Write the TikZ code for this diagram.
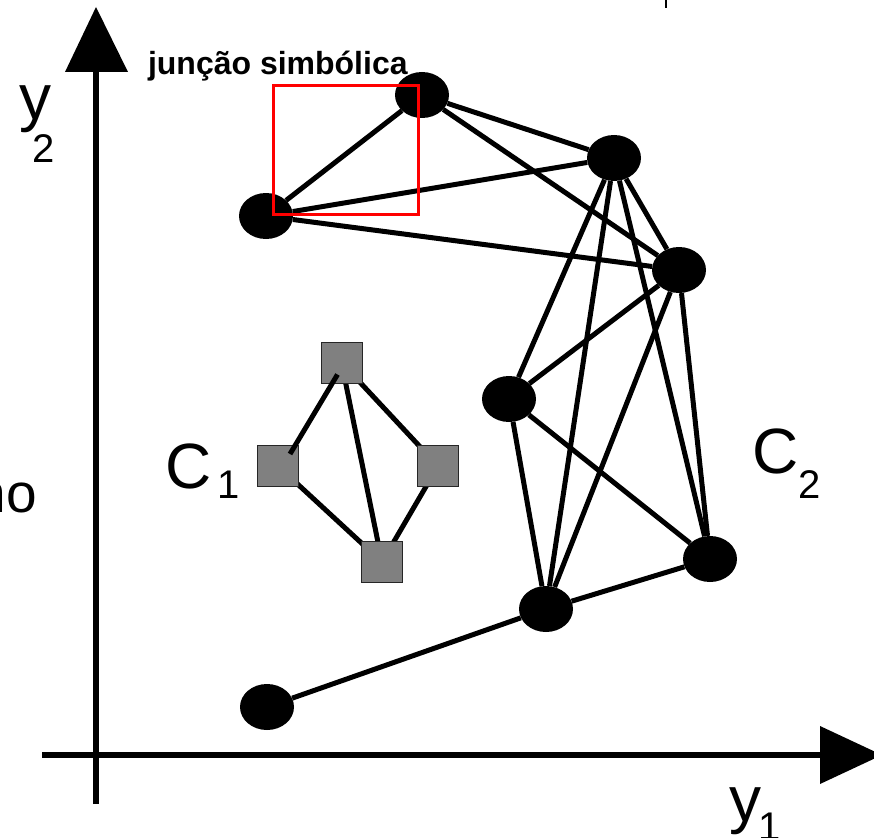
\documentclass[tikz,border=0pt]{standalone}
\usepackage{fontspec}
\setmainfont{Liberation Sans}
\usetikzlibrary{shapes.geometric,calc}
\definecolor{sqgray}{RGB}{128,128,128}
\begin{document}
\begin{tikzpicture}[x=1pt,y=-1pt,
  vtx/.style={ellipse,fill=black,minimum width=54pt,minimum height=46pt,inner sep=0pt},
  sq/.style={rectangle,fill=sqgray,draw=black!85,line width=1pt,minimum size=41pt,inner sep=0pt},
  edge/.style={line width=5pt},
  axis/.style={line width=5.5pt},
  lbl/.style={inner sep=0pt,outer sep=0pt,anchor=base west},
  big/.style={font=\fontsize{64}{64}\selectfont},
  sub/.style={font=\fontsize{40}{40}\selectfont}]
\useasboundingbox (0,0) rectangle (874,837);

% axes
\coordinate (ybot) at (96,804);
\coordinate (ytop) at (96,60);
\coordinate (xleft) at (42,755);
\coordinate (xright) at (830,755);
\draw[axis] (ybot) -- (ytop);
\draw[axis] (xleft) -- (xright);
\fill (96,7) -- (65,72) -- (128,72) -- cycle;
\fill (882,755) -- (820,726) -- (820,784) -- cycle;

% small tick at top
\coordinate (t1) at (666,0);
\coordinate (t2) at (666,8);
\draw[line width=2pt] (t1) -- (t2);

% C2 nodes
\node[vtx] (A) at (422,95) {};
\node[vtx] (B) at (266,216) {};
\node[vtx] (C) at (614,158) {};
\node[vtx] (D) at (679,270) {};
\node[vtx] (E) at (509,399) {};
\node[vtx] (F) at (710,559) {};
\node[vtx] (G) at (546,609) {};
\node[vtx] (H) at (267,707) {};

\foreach \u/\v in {B/A,B/C,B/D,A/C,A/D,C/E,C/G,C/F,C/D,D/E,D/G,D/F,E/G,E/F,G/F,H/G}
  \draw[edge] (\u) -- (\v);

% C1 squares
\draw[edge] (341.5,362.5) coordinate (s1c) -- (382,562) coordinate (s4c);
\draw[edge] (s1c) -- (438,466) coordinate (s3c);
\draw[edge] (278,466) coordinate (s2c) -- (s4c);
\draw[edge] (s3c) -- (s4c);
\node[sq] (S1) at (s1c) {};
\node[sq] (S2) at (s2c) {};
\node[sq] (S3) at (s3c) {};
\node[sq] (S4) at (s4c) {};
\draw[edge] ($(S1.center)+(-4,12)$) -- ($(S2.center)+(12,-12)$);

% red box
\node[draw=red,line width=3pt,minimum width=145pt,minimum height=128pt,inner sep=0pt] (J) at (345.5,150) {};

% labels
\node[lbl,font=\fontsize{32}{32}\selectfont\bfseries] (jl) at (148,75) {junção simbólica};
\node[lbl,big] (y2) at (19,120) {y};
\node[lbl,sub] (y2s) at (32,162) {2};
\node[lbl,big] (c1) at (165,488) {C};
\node[lbl,sub] (c1s) at (217,498) {1};
\node[lbl,big] (c2) at (752,473) {C};
\node[lbl,sub] (c2s) at (798,498) {2};
\node[lbl,big] (y1) at (729,821) {y};
\node[lbl,sub] (y1s) at (758,840) {1};
\node[inner sep=0pt,outer sep=0pt,anchor=base east,font=\fontsize{55}{55}\selectfont] (no) at (37,512) {no};
\end{tikzpicture}
\end{document}
